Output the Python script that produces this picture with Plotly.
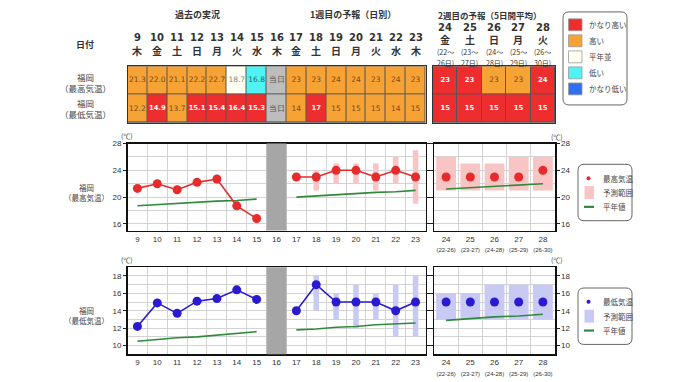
import plotly.graph_objects as go

# ---------------- data ----------------
past_days = [9, 10, 11, 12, 13, 14, 15]
past_wd = ["木", "金", "土", "日", "月", "火", "水"]
today = 16
today_wd = "木"
w1_days = [17, 18, 19, 20, 21, 22, 23]
w1_wd = ["金", "土", "日", "月", "火", "水", "木"]
w2_days = [24, 25, 26, 27, 28]
w2_wd = ["金", "土", "日", "月", "火"]
w2_from = [22, 23, 24, 25, 26]
w2_to = [26, 27, 28, 29, 30]

past_max = [21.3, 22.0, 21.1, 22.2, 22.7, 18.7, 16.8]
past_min = [12.2, 14.9, 13.7, 15.1, 15.4, 16.4, 15.3]
past_max_cls = [1, 1, 1, 1, 1, 2, 3]
past_min_cls = [1, 0, 1, 0, 0, 0, 0]
past_max_normal = [18.7, 18.9, 19.0, 19.2, 19.4, 19.5, 19.7]
past_min_normal = [10.5, 10.7, 10.9, 11.0, 11.2, 11.4, 11.6]

w1_max = [23, 23, 24, 24, 23, 24, 23]
w1_max_lo = [None, 21, 22, 22, 21, 22, 19]
w1_max_hi = [None, 24, 25, 25, 25, 26, 27]
w1_max_cls = [1, 1, 1, 1, 1, 1, 1]
w1_max_normal = [20.0, 20.2, 20.3, 20.5, 20.7, 20.8, 21.0]
w1_min = [14, 17, 15, 15, 15, 14, 15]
w1_min_lo = [None, 14, 13, 12, 13, 11, 11]
w1_min_hi = [None, 18, 16, 17, 16, 17, 18]
w1_min_cls = [1, 0, 1, 1, 1, 1, 1]
w1_min_normal = [11.8, 11.9, 12.1, 12.2, 12.4, 12.5, 12.6]

w2_max = [23, 23, 23, 23, 24]
w2_max_lo = [21, 21, 21, 21, 21]
w2_max_hi = [26, 25, 25, 26, 26]
w2_max_cls = [0, 0, 1, 1, 0]
w2_max_normal = [21.2, 21.4, 21.6, 21.8, 22.0]
w2_min = [15, 15, 15, 15, 15]
w2_min_lo = [13, 13, 13, 13, 13]
w2_min_hi = [16, 16, 17, 17, 17]
w2_min_cls = [0, 0, 0, 0, 0]
w2_min_normal = [12.9, 13.1, 13.3, 13.4, 13.6]

cls_labels = ["かなり高い", "高い", "平年並", "低い", "かなり低い"]
cls_colors = ["#EE2E2E", "#F7A235", "#FFFFF2", "#4FF3F3", "#2F6FF0", "#BDBDBD"]
cls_text = ["white", "#7a4a12", "#888888", "#2a6a6a", "white", "#555555"]
today_label = "当日"

max_legend = ["最高気温", "予測範囲", "平年値"]
min_legend = ["最低気温", "予測範囲", "平年値"]

# ---------------- styles ----------------
W, H = 680, 382
JP = "Noto Sans CJK JP"
NUM = "DejaVu Sans"
RED = "#E52B2B"
BLUE = "#2A1BD0"
GREEN = "#2F8A3B"
PINK = "#F9C4C4"
LAV = "#C9C9F5"
GRID = "#D3D3D3"


def px(x):
    return x / W


def py(y):
    return 1 - y / H


fig = go.Figure()

# ---------------- tables ----------------
t1_days = past_days + [today] + w1_days
t1_max_cls = past_max_cls + [5] + w1_max_cls
t1_min_cls = past_min_cls + [5] + w1_min_cls
t1_max_txt = [f"{v:.1f}" for v in past_max] + [today_label] + [str(v) for v in w1_max]
t1_min_txt = [f"{v:.1f}" for v in past_min] + [today_label] + [str(v) for v in w1_min]

cs = []
n = len(cls_colors)
for i, c in enumerate(cls_colors):
    cs.append([i / n, c])
    cs.append([(i + 1) / n, c])


def table(xa, ya, days, max_cls, min_cls, max_txt, min_txt):
    fig.add_trace(go.Heatmap(
        x=days, y=[0, 1], z=[min_cls, max_cls], colorscale=cs, zmin=-0.5, zmax=n - 0.5,
        showscale=False, xgap=1, ygap=1, hoverinfo="skip", xaxis=xa, yaxis=ya))
    for row, cls, txt in ((1, max_cls, max_txt), (0, min_cls, min_txt)):
        fig.add_trace(go.Scatter(
            x=days, y=[row] * len(days), mode="text",
            text=[f"<b>{t}</b>" if c == 0 else t for t, c in zip(txt, cls)],
            textfont=dict(family=NUM, size=[6.8 if c == 0 else 7.5 for c in cls],
                          color=[cls_text[c] for c in cls]),
            hoverinfo="skip", xaxis=xa, yaxis=ya))


table("x5", "y5", t1_days, t1_max_cls, t1_min_cls, t1_max_txt, t1_min_txt)
table("x6", "y6", w2_days, w2_max_cls, w2_min_cls,
      [str(v) for v in w2_max], [str(v) for v in w2_min])

# ---------------- charts ----------------
def rng(lo, hi):
    return [None if a is None else b - a for a, b in zip(lo, hi)]


def chart(xa, ya, xb, yb, pv, pn, wv, wlo, whi, wn, v2, lo2, hi2, n2, col, band):
    fig.add_trace(go.Bar(x=w1_days, y=rng(wlo, whi), base=wlo, width=0.28,
                         marker=dict(color=band, line=dict(width=0)),
                         hoverinfo="skip", xaxis=xa, yaxis=ya))
    fig.add_trace(go.Scatter(x=past_days, y=pn, mode="lines",
                             line=dict(color=GREEN, width=1.6), xaxis=xa, yaxis=ya))
    fig.add_trace(go.Scatter(x=w1_days, y=wn, mode="lines",
                             line=dict(color=GREEN, width=1.6), xaxis=xa, yaxis=ya))
    fig.add_trace(go.Scatter(x=past_days, y=pv, mode="lines+markers",
                             line=dict(color=col, width=1.6),
                             marker=dict(color=col, size=9), xaxis=xa, yaxis=ya))
    fig.add_trace(go.Scatter(x=w1_days, y=wv, mode="lines+markers",
                             line=dict(color=col, width=1.6),
                             marker=dict(color=col, size=9), xaxis=xa, yaxis=ya))
    fig.add_trace(go.Bar(x=w2_days, y=rng(lo2, hi2), base=lo2, width=0.82,
                         marker=dict(color=band, line=dict(width=0)),
                         hoverinfo="skip", xaxis=xb, yaxis=yb))
    fig.add_trace(go.Scatter(x=w2_days, y=n2, mode="lines",
                             line=dict(color=GREEN, width=1.6), xaxis=xb, yaxis=yb))
    fig.add_trace(go.Scatter(x=w2_days, y=v2, mode="markers",
                             marker=dict(color=col, size=9), xaxis=xb, yaxis=yb))


chart("x", "y", "x2", "y2", past_max, past_max_normal, w1_max, w1_max_lo, w1_max_hi,
      w1_max_normal, w2_max, w2_max_lo, w2_max_hi, w2_max_normal, RED, PINK)
chart("x3", "y3", "x4", "y4", past_min, past_min_normal, w1_min, w1_min_lo, w1_min_hi,
      w1_min_normal, w2_min, w2_min_lo, w2_min_hi, w2_min_normal, BLUE, LAV)

# ---------------- axes ----------------
dom_left = [px(127.5), px(425.5)]
dom_right = [px(434), px(555)]
dom_top = [py(229), py(141)]
dom_bot = [py(354), py(266)]
dom_tab = [py(120), py(63)]

tickfont = dict(family="Liberation Sans", size=8, color="#333")
w2_ticktext = [f"{d}<br><span style='font-size:6px'>({a}-{b})</span>"
               for d, a, b in zip(w2_days, w2_from, w2_to)]


def xax(dom, r, vals, text, anchor, lo):
    return dict(domain=dom, range=r, tickvals=vals, ticktext=text, ticks="",
                showgrid=False, zeroline=False, showline=True, linecolor="#111",
                linewidth=1.5, mirror=True, anchor=anchor, tickfont=tickfont,
                minor=dict(tick0=lo, dtick=1, showgrid=True, gridcolor=GRID, ticks=""),
                fixedrange=True)


def yax(dom, r, vals, mdt, anchor, side):
    return dict(domain=dom, range=r, tickvals=vals, ticks="outside", ticklen=3,
                tickcolor="#222", showgrid=True, gridcolor=GRID, zeroline=False,
                showline=True, linecolor="#111", linewidth=1.5, mirror="ticks",
                anchor=anchor, side=side, tickfont=tickfont, fixedrange=True,
                minor=dict(dtick=mdt, tick0=0, showgrid=True, gridcolor=GRID, ticks=""))


t1_ticktext = [str(d) for d in t1_days]
fig.update_layout(
    xaxis=xax(dom_left, [8.5, 23.5], t1_days, t1_ticktext, "y", 8.5),
    yaxis=yax(dom_top, [15, 28], [16, 20, 24, 28], 2, "x", "left"),
    xaxis2=xax(dom_right, [23.5, 28.5], w2_days, w2_ticktext, "y2", 23.5),
    yaxis2=yax(dom_top, [15, 28], [16, 20, 24, 28], 2, "x2", "right"),
    xaxis3=xax(dom_left, [8.5, 23.5], t1_days, t1_ticktext, "y3", 8.5),
    yaxis3=yax(dom_bot, [9, 19], [10, 12, 14, 16, 18], 1, "x3", "left"),
    xaxis4=xax(dom_right, [23.5, 28.5], w2_days, w2_ticktext, "y4", 23.5),
    yaxis4=yax(dom_bot, [9, 19], [10, 12, 14, 16, 18], 1, "x4", "right"),
    xaxis5=dict(domain=dom_left, range=[8.5, 23.5], showticklabels=False,
                ticks="", showgrid=False, zeroline=False, showline=True, mirror=True,
                linecolor="#333", linewidth=1, anchor="y5", fixedrange=True),
    yaxis5=dict(domain=dom_tab, range=[-0.5, 1.5], showticklabels=False, ticks="",
                showgrid=False, zeroline=False, showline=True, mirror=True,
                linecolor="#333", linewidth=1, anchor="x5", fixedrange=True),
    xaxis6=dict(domain=[px(433), px(555)], range=[23.5, 28.5], showticklabels=False,
                ticks="", showgrid=False, zeroline=False, showline=True, mirror=True,
                linecolor="#333", linewidth=1, anchor="y6", fixedrange=True),
    yaxis6=dict(domain=dom_tab, range=[-0.5, 1.5], showticklabels=False, ticks="",
                showgrid=False, zeroline=False, showline=True, mirror=True,
                linecolor="#333", linewidth=1, anchor="x6", fixedrange=True),
)

shapes = []
# table grid background (shows through heatmap gaps)
for xa, ya in (("x5", "y5"), ("x6", "y6")):
    shapes.append(dict(type="rect", xref=f"{xa} domain", yref=f"{ya} domain",
                       x0=0, x1=1, y0=0, y1=1, fillcolor="#555", line_width=0,
                       layer="below"))
# today band in the charts
for xa, ya in (("x", "y"), ("x3", "y3")):
    shapes.append(dict(type="rect", xref=xa, yref=f"{ya} domain",
                       x0=today - 0.5, x1=today + 0.5, y0=0, y1=1,
                       fillcolor="#A6A6A6", line_width=0, layer="above"))


def rrect(x0, y0, x1, y1, r=6, color="#666"):
    rx, ry = r / W, r / H
    X0, X1, Y0, Y1 = px(x0), px(x1), py(y0), py(y1)
    path = (f"M{X0 + rx},{Y0} L{X1 - rx},{Y0} Q{X1},{Y0} {X1},{Y0 - ry} "
            f"L{X1},{Y1 + ry} Q{X1},{Y1} {X1 - rx},{Y1} L{X0 + rx},{Y1} "
            f"Q{X0},{Y1} {X0},{Y1 + ry} L{X0},{Y0 - ry} Q{X0},{Y0} {X0 + rx},{Y0} Z")
    return dict(type="path", xref="paper", yref="paper", path=path,
                line=dict(color=color, width=1), fillcolor="white", layer="below")


ann = []


def text(x, y, s, size=9, color="#333", bold=False, xanchor="center", xref="paper",
         family=JP):
    ann.append(dict(x=x if xref != "paper" else px(x), y=py(y), xref=xref, yref="paper",
                    text=f"<b>{s}</b>" if bold else s, showarrow=False,
                    xanchor=xanchor, yanchor="middle",
                    font=dict(family=family, size=size, color=color)))


# category legend
shapes.append(rrect(563, 8, 627, 102, r=6))
for i, (lab, c) in enumerate(zip(cls_labels, cls_colors)):
    yc = 21 + i * 16.2
    shapes.append(dict(type="rect", xref="paper", yref="paper",
                       x0=px(568.5), x1=px(582), y0=py(yc + 6), y1=py(yc - 6),
                       fillcolor=c, line=dict(color="#999", width=0.8)))
    text(587, yc, lab, size=7.5, color="#444", xanchor="left")

# chart legends
for (top, labs, col, band) in ((162, max_legend, RED, PINK), (287, min_legend, BLUE, LAV)):
    shapes.append(rrect(578, top, 632, top + 57, r=6))
    y1, y2, y3 = top + 14, top + 28.5, top + 43
    shapes.append(dict(type="circle", xref="paper", yref="paper",
                       x0=px(586.5), x1=px(590.5), y0=py(y1 + 2), y1=py(y1 - 2),
                       fillcolor=col, line_width=0))
    shapes.append(dict(type="rect", xref="paper", yref="paper",
                       x0=px(584.5), x1=px(594), y0=py(y2 + 6.5), y1=py(y2 - 6.5),
                       fillcolor=band, line_width=0))
    shapes.append(dict(type="line", xref="paper", yref="paper",
                       x0=px(584), x1=px(594), y0=py(y3), y1=py(y3),
                       line=dict(color=GREEN, width=2.2)))
    for yy, lab in zip((y1, y2, y3), labs):
        text(601, yy, lab, size=7.5, color="#444", xanchor="left")

# headers
text(197, 11, "過去の実況", size=9, bold=True)
text(353, 11, "1週目の予報（日別）", size=9, bold=True)
text(490, 11, "2週目の予報（5日間平均）", size=8.5, bold=True)
text(85, 41, "日付", size=9, bold=True)
text(85, 79, "福岡<br>（最高気温）", size=8.5, color="#444")
text(85, 106, "福岡<br>（最低気温）", size=8.5, color="#444")
text(86, 190, "福岡<br>（最高気温）", size=7.5, color="#444")
text(86, 314.5, "福岡<br>（最低気温）", size=7.5, color="#444")

for d, wd in zip(t1_days, past_wd + [today_wd] + w1_wd):
    text(d, 34, str(d), size=10, bold=True, xref="x5", family=NUM)
    text(d, 47, wd, size=10, bold=True, xref="x5")
for d, wd, a, b in zip(w2_days, w2_wd, w2_from, w2_to):
    text(d, 24, str(d), size=10, bold=True, xref="x6", family=NUM)
    text(d, 36, wd, size=10, bold=True, xref="x6")
    text(d, 49, f"({a}〜", size=7, xref="x6")
    text(d, 60, f"{b}日)", size=7, xref="x6")

# units
for x, y in ((127, 133), (557, 134), (127, 259), (557, 259)):
    text(x, y, "(℃)", size=7, color="#444")

fig.update_layout(
    width=W, height=H, margin=dict(l=0, r=0, t=0, b=0),
    paper_bgcolor="white", plot_bgcolor="white", showlegend=False,
    barmode="overlay", shapes=shapes, annotations=ann, hovermode=False,
)

fig.write_html("out.html", config={"displayModeBar": False, "staticPlot": True},
               post_script="document.body.style.margin='0';")
